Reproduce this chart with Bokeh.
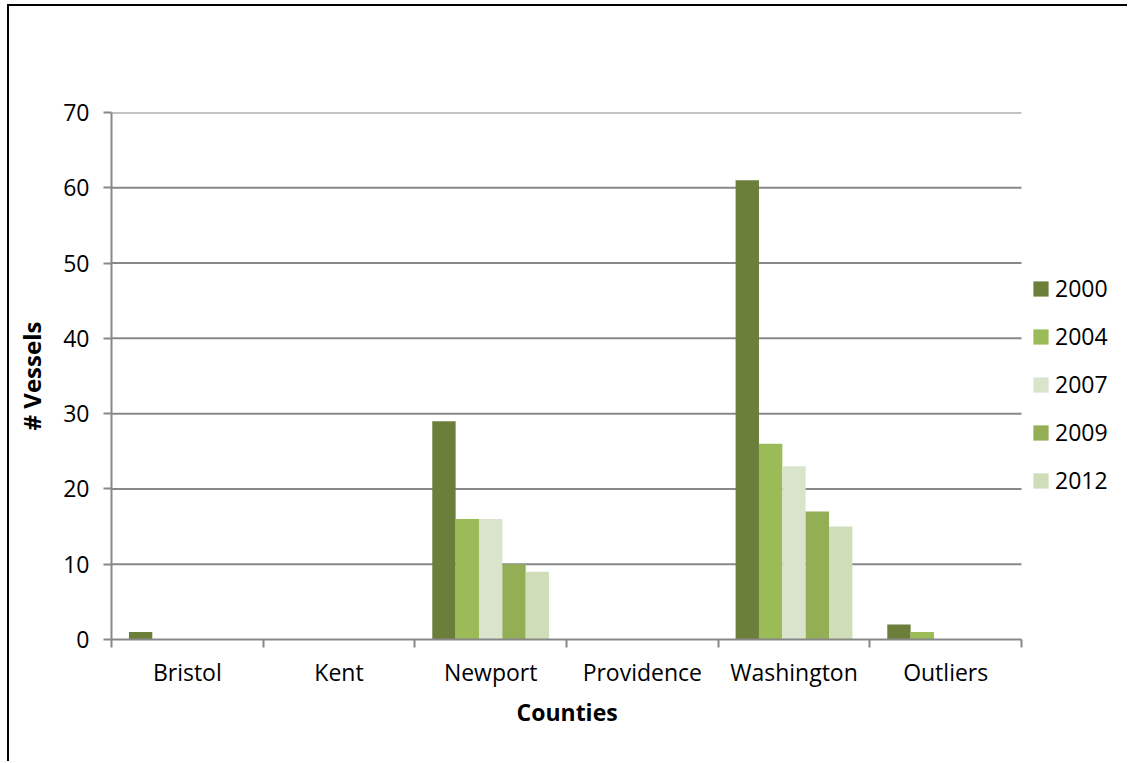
from bokeh.plotting import figure
from bokeh.models import (Range1d, FixedTicker, ColumnDataSource, Legend, LegendItem, LinearAxis, Title)
from bokeh.embed import file_html
from bokeh.resources import INLINE

counties = ["Bristol", "Kent", "Newport", "Providence", "Washington", "Outliers"]
years = ["2000", "2004", "2007", "2009", "2012"]
v2000 = [1, 0, 29, 0, 61, 2]
v2004 = [0, 0, 16, 0, 26, 1]
v2007 = [0, 0, 16, 0, 23, 0]
v2009 = [0, 0, 10, 0, 17, 0]
v2012 = [0, 0, 9, 0, 15, 0]
series = [v2000, v2004, v2007, v2009, v2012]
colors = ["#6b7f3a", "#9bbb59", "#dae4cc", "#93ae54", "#cfddb9"]
y_ticks = [0, 10, 20, 30, 40, 50, 60, 70]

FONT = "Open Sans"
GRID = "#888888"

ox, oy = 9, 6  # page offset of figure content (after CSS border)
W, H = 1129 - ox, 763 - oy
n = len(counties)
frame_px = 1129 - 111          # frame runs to page edge so the legend is not clipped
cat_px = 1021 - 111            # categories occupy this many pixels
x_end = n * frame_px / cat_px

p = figure(width=W, height=H, output_backend="svg", toolbar_location=None,
           x_range=Range1d(0, x_end), y_range=Range1d(0, 70),
           min_border_left=111 - ox, min_border_top=112 - oy,
           min_border_right=0, min_border_bottom=H - (639 - oy),
           x_axis_type=None, y_axis_type=None,
           styles={"border-left": "2px solid black", "border-top": "2px solid black",
                   "margin-left": "7px", "margin-top": "4px"})
p.outline_line_color = None
p.background_fill_color = "white"
p.border_fill_color = "white"

# horizontal gridlines over the category span only
p.segment(x0=0, x1=n, y0=y_ticks[1:], y1=y_ticks[1:], line_color=GRID, line_width=2)

# y axis
yax = LinearAxis(ticker=FixedTicker(ticks=y_ticks, minor_ticks=[]))
yax.axis_label = "# Vessels"
yax.axis_label_text_font = FONT
yax.axis_label_text_font_style = "bold"
yax.axis_label_text_font_size = "24px"
yax.axis_label_text_color = "black"
yax.axis_label_standoff = 12
yax.major_label_text_font = FONT
yax.major_label_text_font_size = "23px"
yax.major_label_text_color = "black"
yax.major_label_standoff = 14
yax.axis_line_color = GRID
yax.axis_line_width = 2
yax.major_tick_line_color = GRID
yax.major_tick_line_width = 2
yax.major_tick_out = 8
yax.major_tick_in = 0
p.add_layout(yax, "left")

# x axis: labels at centers, tick marks at boundaries (minor ticks)
centers = [i + 0.5 for i in range(n)]
bounds = list(range(n + 1))
xax = LinearAxis(ticker=FixedTicker(ticks=centers, minor_ticks=bounds), bounds=(0, n))
xax.major_label_overrides = {c: name for c, name in zip(centers, counties)}
xax.major_label_text_font = FONT
xax.major_label_text_font_size = "23px"
xax.major_label_text_color = "black"
xax.major_label_standoff = 8
xax.axis_line_color = GRID
xax.axis_line_width = 2
xax.major_tick_out = 0
xax.major_tick_in = 0
xax.major_tick_line_color = None
xax.minor_tick_line_color = GRID
xax.minor_tick_line_width = 2
xax.minor_tick_out = 8
xax.minor_tick_in = 0
p.add_layout(xax, "below")

xtitle = Title(text="Counties", align="left", offset=566 - 111 - 50,
               text_font=FONT, text_font_style="bold", text_font_size="23px",
               text_color="black", standoff=7)
p.add_layout(xtitle, "below")

bw = 0.154
renderers = []
for k, (yr, vals, col) in enumerate(zip(years, series, colors)):
    src = ColumnDataSource(dict(x=[c + (k - 2) * bw for c in centers], top=vals))
    r = p.vbar(x="x", top="top", bottom=0, width=bw, source=src,
               fill_color=col, line_color=None)
    renderers.append(r)

legend = Legend(items=[LegendItem(label=yr, renderers=[r]) for yr, r in zip(years, renderers)],
                location=(1041 - 10 - 111, 639 - 515 + 19))
legend.glyph_width = 19
legend.glyph_height = 19
legend.label_standoff = 5
legend.spacing = 16
legend.padding = 10
legend.margin = 0
legend.border_line_color = None
legend.background_fill_alpha = 0
legend.label_text_font = FONT
legend.label_text_font_size = "23px"
legend.label_text_color = "black"
p.add_layout(legend, "center")

open("out.html", "w").write(file_html(p, INLINE))
